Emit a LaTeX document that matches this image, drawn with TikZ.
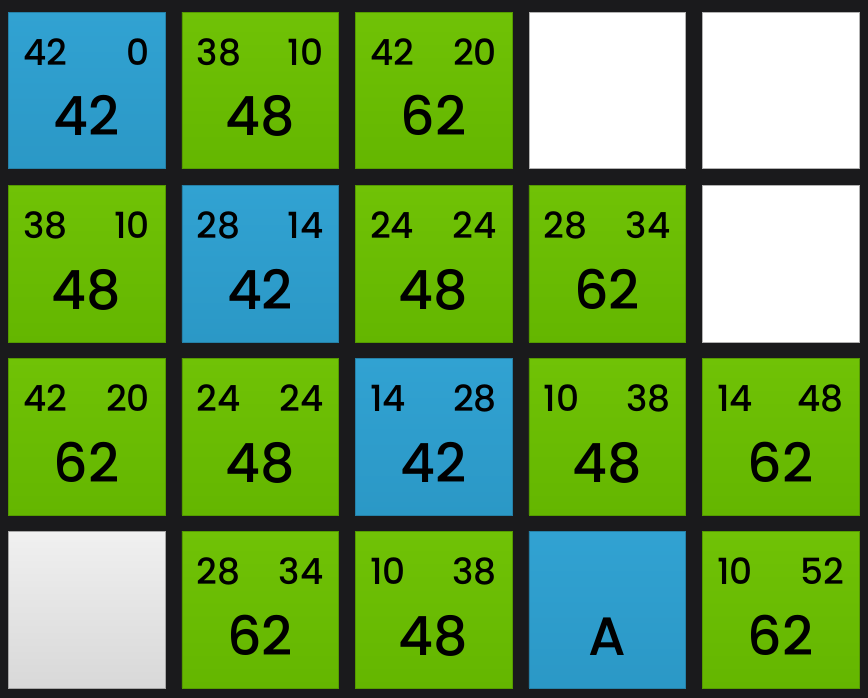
\documentclass[tikz,border=0pt]{standalone}
\usepackage{fontspec}
\IfFontExistsTF{Poppins Medium}{\setmainfont{Poppins Medium}}{\setmainfont{Poppins}}
\definecolor{bg}{HTML}{1A1A1C}
\definecolor{gtop}{HTML}{70C206}
\definecolor{gbot}{HTML}{64B600}
\definecolor{btop}{HTML}{31A2D2}
\definecolor{bbot}{HTML}{2B98C6}
\definecolor{wtop}{HTML}{F0F0F0}
\definecolor{wbot}{HTML}{D8D8D8}
\tikzset{
  cellbox/.style={rectangle, minimum width=156.5pt, minimum height=156.5pt, inner sep=0pt, anchor=north west},
  greencell/.style={cellbox, top color=gtop, bottom color=gbot, draw=gbot!85!black, line width=0.6pt},
  bluecell/.style={cellbox, top color=btop, bottom color=bbot, draw=bbot!85!black, line width=0.6pt},
  whitecell/.style={cellbox, fill=white, draw=gray!60, line width=0.6pt},
  graycell/.style={cellbox, top color=wtop, bottom color=wbot, draw=gray!70, line width=0.6pt},
  smallnum/.style={inner sep=0pt, font=\fontsize{36}{40}\selectfont, text=black},
  bignum/.style={inner sep=0pt, font=\fontsize{54}{60}\selectfont, text=black, anchor=base},
}
\newcommand{\numcell}[7]{%
  \node[#4] (#1) at ({8+173.5*#2}, {12+173*#3}) {};
  \node[smallnum, anchor=base west] (#1-l) at ([xshift=15pt, yshift=-53.5pt]#1.north west) {#5};
  \node[smallnum, anchor=base east] (#1-r) at ([xshift=-15pt, yshift=-53.5pt]#1.north east) {#6};
  \node[bignum] (#1-c) at ([yshift=-124pt]#1.north) {#7};
}
\begin{document}
\begin{tikzpicture}[x=1pt, y=-1pt]
  \fill[bg] (0,0) rectangle (868,698);
  \useasboundingbox (0,0) rectangle (868,698);
  % row 1
  \numcell{c00}{0}{0}{bluecell}{42}{0}{42}
  \numcell{c10}{1}{0}{greencell}{38}{10}{48}
  \numcell{c20}{2}{0}{greencell}{42}{20}{62}
  \node[whitecell] (c30) at ({8+173.5*3}, 12) {};
  \node[whitecell] (c40) at ({8+173.5*4}, 12) {};
  % row 2
  \numcell{c01}{0}{1}{greencell}{38}{10}{48}
  \numcell{c11}{1}{1}{bluecell}{28}{14}{42}
  \numcell{c21}{2}{1}{greencell}{24}{24}{48}
  \numcell{c31}{3}{1}{greencell}{28}{34}{62}
  \node[whitecell] (c41) at ({8+173.5*4}, {12+173}) {};
  % row 3
  \numcell{c02}{0}{2}{greencell}{42}{20}{62}
  \numcell{c12}{1}{2}{greencell}{24}{24}{48}
  \numcell{c22}{2}{2}{bluecell}{14}{28}{42}
  \numcell{c32}{3}{2}{greencell}{10}{38}{48}
  \numcell{c42}{4}{2}{greencell}{14}{48}{62}
  % row 4
  \node[graycell] (c03) at (8, {12+173*3}) {};
  \numcell{c13}{1}{3}{greencell}{28}{34}{62}
  \numcell{c23}{2}{3}{greencell}{10}{38}{48}
  \node[bluecell] (c33) at ({8+173.5*3}, {12+173*3}) {};
  \node[bignum] (c33-c) at ([yshift=-124pt]c33.north) {A};
  \numcell{c43}{4}{3}{greencell}{10}{52}{62}
\end{tikzpicture}
\end{document}
